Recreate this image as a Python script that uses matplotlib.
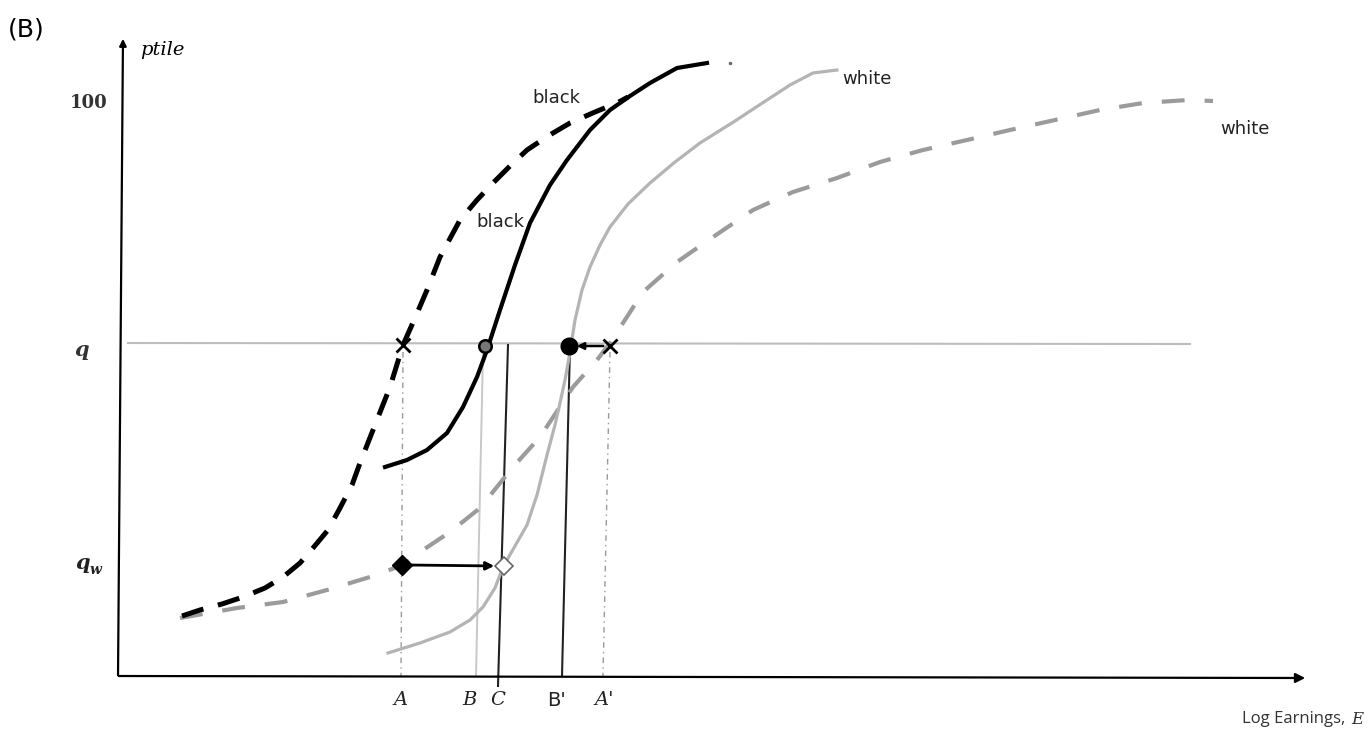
import numpy as np
import matplotlib
matplotlib.use("Agg")
import matplotlib.pyplot as plt

# Schematic, in picture units (x to the right, y downwards)
black_dashed_x = [182, 200, 222, 243, 265, 283, 300, 313, 328, 340, 352, 360, 373, 390, 403, 415,
                  427, 440, 460, 477, 493, 510, 527, 548, 570, 595, 617, 628]
black_dashed_y = [616, 610, 604, 597, 588, 577, 563, 548, 530, 508, 485, 463, 430, 387, 345, 318,
                  290, 257, 220, 200, 183, 166, 150, 136, 123, 112, 103, 97]

black_solid_x = [385, 407, 427, 447, 463, 477, 487, 500, 515, 530, 550, 567, 590, 610, 630, 650,
                 677, 707]
black_solid_y = [467, 460, 450, 433, 407, 377, 350, 310, 265, 223, 185, 160, 130, 110, 96, 83,
                 68, 63]

white_solid_x = [388, 420, 450, 470, 483, 495, 503, 515, 527, 537, 547, 555, 560, 565, 570, 575,
                 582, 590, 600, 610, 628, 650, 675, 700, 735, 767, 790, 813, 837]
white_solid_y = [653, 643, 632, 620, 607, 588, 567, 546, 525, 495, 455, 425, 403, 380, 352, 320,
                 290, 267, 245, 227, 204, 183, 162, 143, 121, 100, 85, 73, 70]

white_dashed_x = [180, 237, 283, 327, 370, 403, 423, 450, 480, 513, 540, 573, 597, 610, 623, 643,
                  677, 713, 753, 793, 837, 880, 923, 967, 1010, 1055, 1100, 1143, 1188, 1213]
white_dashed_y = [618, 608, 602, 590, 577, 565, 550, 532, 508, 467, 437, 387, 360, 343, 323, 292,
                  262, 237, 210, 192, 178, 162, 150, 140, 130, 120, 110, 103, 100, 101]

q_level = 345
qw_level = 565
axis_y = 676
axis_x = 120

tick_names = ["A", "B", "C", "B'", "A'"]
tick_pos = [401, 469, 498, 557, 604]
tick_italic = [True, True, True, False, True]

curve_labels = ['black', 'black', 'white', 'white']
curve_label_x = [556, 500, 867, 1245]
curve_label_y = [98, 222, 79, 129]

fig = plt.figure(figsize=(13.7, 7.34), dpi=100)
ax = fig.add_axes([0, 0, 1, 1])
ax.set_xlim(0, 1370)
ax.set_ylim(734, 0)
ax.axis('off')

# axes with arrows
ax.annotate('', xy=(axis_x + 3, 36), xytext=(axis_x - 2, axis_y + 2),
            arrowprops=dict(arrowstyle='-|>', color='black', lw=1.6, mutation_scale=10))
ax.annotate('', xy=(1308, axis_y + 2), xytext=(axis_x - 4, axis_y),
            arrowprops=dict(arrowstyle='-|>', color='black', lw=1.6, mutation_scale=14))

# q reference line
ax.plot([128, 1190], [q_level - 2, q_level - 1], color='#bdbdbd', lw=1.5)

# vertical guide lines
ax.plot([403, 401], [352, axis_y], color='#9a9a9a', lw=1, linestyle=(0, (4, 3, 1, 3)))
ax.plot([483, 476], [352, axis_y], color='#c8c8c8', lw=1.4)
ax.plot([508, 498], [q_level, 686], color='#222222', lw=1.5)
ax.plot([570, 562], [q_level, axis_y], color='#222222', lw=1.5)
ax.plot([610, 603], [352, axis_y], color='#9a9a9a', lw=1, linestyle=(0, (4, 3, 1, 3)))

# curves
ax.plot(white_dashed_x, white_dashed_y, color='#9b9b9b', lw=3.0,
        linestyle=(0, (5.5, 4.8)), solid_capstyle='butt', zorder=3)
ax.plot(white_solid_x, white_solid_y, color='#b4b4b4', lw=2.3, zorder=3)
ax.plot(black_dashed_x, black_dashed_y, color='black', lw=3.6,
        linestyle=(0, (4.5, 3.0)), zorder=4)
ax.plot(black_solid_x, black_solid_y, color='black', lw=3.0, zorder=4)
ax.plot([730], [63], marker='o', color='#666666', markersize=1.5)

# markers at q
ax.plot([403], [q_level], marker='x', color='black', markersize=10, mew=2, zorder=6)
ax.plot([485], [q_level + 1], marker='o', markerfacecolor='#777777', markeredgecolor='black',
        markersize=9, mew=1.8, zorder=6)
ax.plot([569], [q_level + 1], marker='o', color='black', markersize=12, zorder=6)
ax.plot([610], [q_level + 1], marker='x', color='black', markersize=10, mew=2, zorder=6)
ax.annotate('', xy=(574, q_level + 1), xytext=(606, q_level + 1),
            arrowprops=dict(arrowstyle='-|>', color='black', lw=1.8, mutation_scale=10), zorder=6)

# markers at q_w
ax.plot([402], [qw_level], marker='D', color='black', markersize=10, zorder=6)
ax.annotate('', xy=(497, qw_level + 1), xytext=(408, qw_level),
            arrowprops=dict(arrowstyle='-|>', color='black', lw=2.0, mutation_scale=12), zorder=6)
ax.plot([504], [qw_level + 1], marker='D', markerfacecolor='white', markeredgecolor='#666666',
        markersize=9, mew=1.2, zorder=6)

# curve labels
for lab, lx, ly in zip(curve_labels, curve_label_x, curve_label_y):
    ax.text(lx, ly, lab, fontsize=13, family='DejaVu Sans', ha='center', va='center',
            color='#222222')

# axis labels
ax.text(8, 30, '(B)', fontsize=18, family='DejaVu Sans', ha='left', va='center')
ax.text(140, 50, 'ptile', fontsize=14, family='DejaVu Serif', style='italic', ha='left', va='center')
ax.text(108, 103, '100', fontsize=13, family='DejaVu Serif', weight='bold', ha='right',
        va='center', color='#333333')
ax.text(82, 350, 'q', fontsize=15, family='DejaVu Serif', style='italic', weight='bold',
        ha='center', va='center', color='#333333')
ax.text(90, 563, 'q', fontsize=15, family='DejaVu Serif', style='italic', weight='bold',
        ha='right', va='center', color='#222222')
ax.text(90, 570, 'w', fontsize=10, family='DejaVu Serif', style='italic', weight='bold',
        ha='left', va='center', color='#222222')

for name, xp, it in zip(tick_names, tick_pos, tick_italic):
    if it:
        ax.text(xp, 700, name, fontsize=14, family='DejaVu Serif', style='italic', ha='center',
                va='center', color='#222222')
    else:
        ax.text(xp, 700, name, fontsize=14, family='DejaVu Sans', ha='center', va='center',
                color='#222222')

ax.text(1350, 719, 'Log Earnings, ', fontsize=12, family='Open Sans', ha='right',
        va='center', color='#333333')
ax.text(1351, 719, 'E', fontsize=12, family='DejaVu Serif', style='italic', ha='left',
        va='center', color='#333333')

fig.savefig('out.png', dpi=100, facecolor='white')
